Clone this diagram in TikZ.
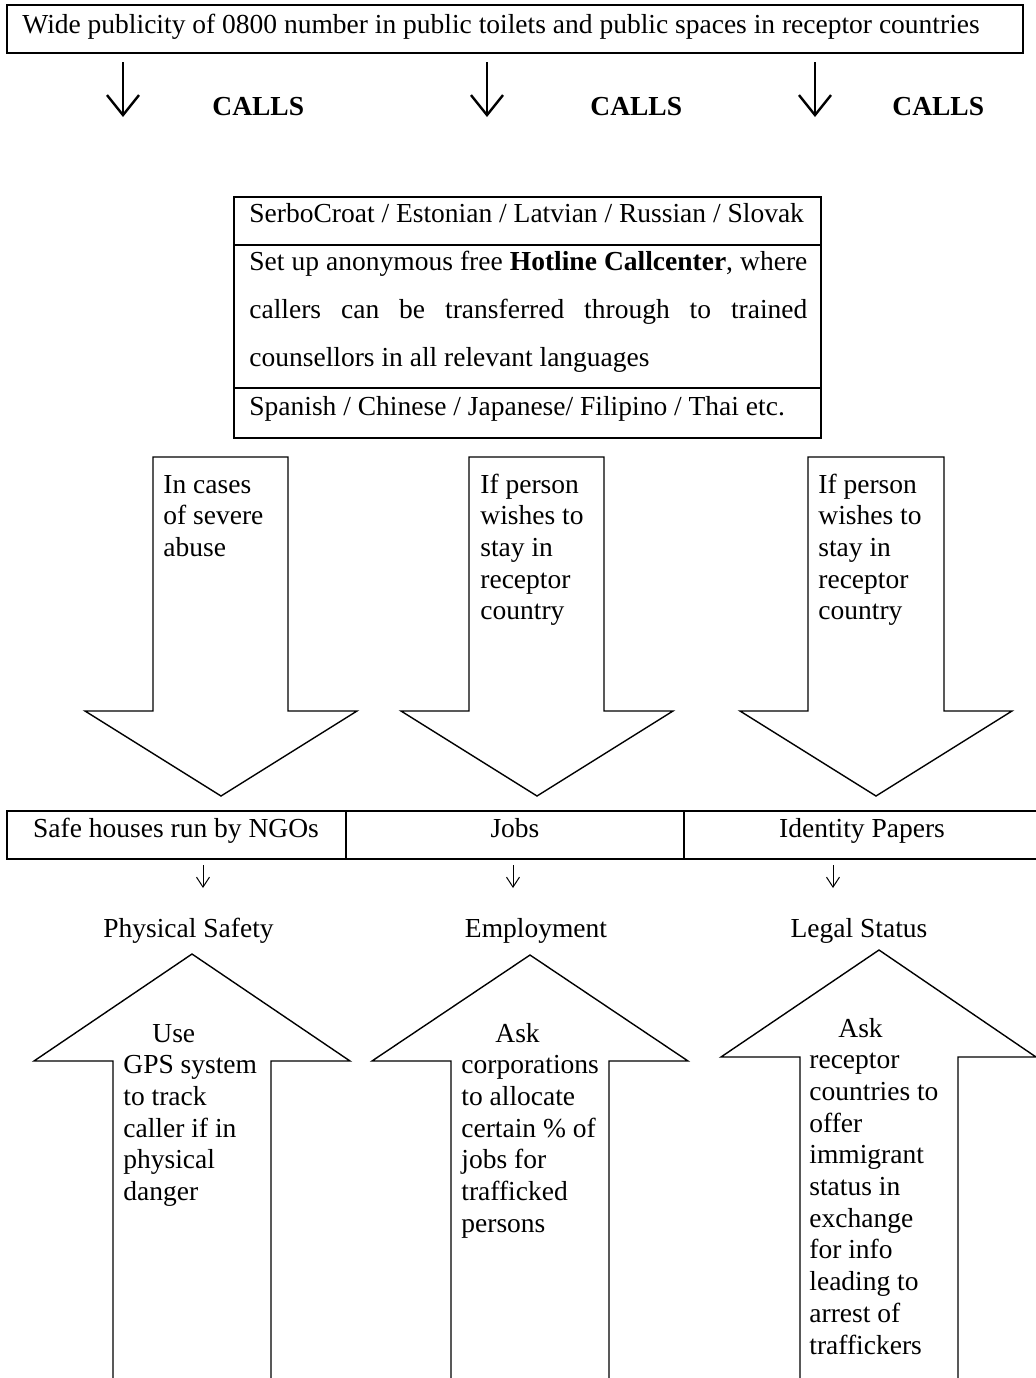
\documentclass[tikz,border=0pt]{standalone}
\usepackage{fontspec}
\setmainfont{Liberation Serif}
\usetikzlibrary{arrows.meta}
\newcommand\mylines[1]{\vtop{\baselineskip=15.85pt\lineskip=0pt\lineskiplimit=0pt\halign{##\hfil\cr#1\crcr}}}
\begin{document}
\begin{tikzpicture}[x=0.5pt,y=-0.5pt,
  font=\fontsize{13.75}{15.85}\selectfont,
  every node/.style={inner sep=0pt},
  box/.style={draw,line width=0.95pt},
  blk/.style={draw,line width=0.7pt,line join=miter},
  txt/.style={anchor=base west,inner sep=0pt},
  ctr/.style={anchor=base,inner sep=0pt},
  callarrow/.style={line width=1.2pt,-{Straight Barb[length=10pt,width=16pt,line width=1.2pt]}},
  smallarrow/.style={line width=0.5pt,-{Straight Barb[length=5pt,width=6.5pt,line width=0.5pt]}}]
\useasboundingbox (0,0) rectangle (1036,1378);
% top box
\draw[box] (7,5) rectangle (1023,53);
\node[txt] (pub) at (22,33) {Wide publicity of 0800 number in public toilets and public spaces in receptor countries};
% call arrows
\coordinate (c1s) at (123,62); \coordinate (c1e) at (123,117);
\coordinate (c2s) at (487,62); \coordinate (c2e) at (487,117);
\coordinate (c3s) at (815,62); \coordinate (c3e) at (815,117);
\draw[callarrow] (c1s) -- (c1e);
\draw[callarrow] (c2s) -- (c2e);
\draw[callarrow] (c3s) -- (c3e);
\node[txt] (calls1) at (212,115) {\textbf{CALLS}};
\node[txt] (calls2) at (590,115) {\textbf{CALLS}};
\node[txt] (calls3) at (892,115) {\textbf{CALLS}};
% call center table
\draw[box] (234,197) rectangle (821,438);
\draw[box] (234,245) -- (821,245);
\draw[box] (234,388) -- (821,388);
\node[txt] (lang1) at (249,222) {SerboCroat / Estonian / Latvian / Russian / Slovak};
\node[txt] (hotline) at (249,270) {\vtop{\baselineskip=24pt\lineskip=0pt\lineskiplimit=0pt
  \hbox{\makebox[279pt][s]{Set up anonymous free \textbf{Hotline Callcenter}, where}}
  \hbox{\makebox[279pt][s]{callers can be transferred through to trained}}
  \hbox{counsellors in all relevant languages}}};
\node[txt] (lang2) at (249,415) {Spanish / Chinese / Japanese/ Filipino / Thai etc.};
% down block arrows
\draw[blk] (153,457) -- (288,457) -- (288,711) -- (357,711) -- (221,796) -- (85,711) -- (153,711) -- cycle;
\draw[blk] (469,457) -- (604,457) -- (604,711) -- (673,711) -- (537,796) -- (401,711) -- (469,711) -- cycle;
\draw[blk] (808,457) -- (944,457) -- (944,711) -- (1012,711) -- (876,796) -- (740,711) -- (808,711) -- cycle;
\node[txt] (d1) at (163,493) {\mylines{In cases\cr of severe\cr abuse}};
\node[txt] (d2) at (480,493) {\mylines{If person\cr wishes to\cr stay in\cr receptor\cr country}};
\node[txt] (d3) at (818,493) {\mylines{If person\cr wishes to\cr stay in\cr receptor\cr country}};
% row of boxes
\draw[box] (7,811) rectangle (1040,859);
\draw[box] (346,811) -- (346,859);
\draw[box] (684,811) -- (684,859);
\node[ctr] (safe) at (176,837) {Safe houses run by NGOs};
\node[ctr] (jobs) at (515,837) {Jobs};
\node[ctr] (idp) at (862,837) {Identity Papers};
% small arrows
\coordinate (s1s) at (203,865); \coordinate (s1e) at (203,888);
\coordinate (s2s) at (513,865); \coordinate (s2e) at (513,888);
\coordinate (s3s) at (833,865); \coordinate (s3e) at (833,888);
\draw[smallarrow] (s1s) -- (s1e);
\draw[smallarrow] (s2s) -- (s2e);
\draw[smallarrow] (s3s) -- (s3e);
\node[ctr] (phys) at (188.5,937) {Physical Safety};
\node[ctr] (empl) at (536,937) {Employment};
\node[ctr] (legal) at (859,937) {Legal Status};
% up block arrows
\draw[blk] (113,1384) -- (113,1061) -- (34,1061) -- (192,954) -- (350,1061) -- (271,1061) -- (271,1384);
\draw[blk] (451,1384) -- (451,1061) -- (372,1061) -- (530,955) -- (688,1061) -- (609,1061) -- (609,1384);
\draw[blk] (800,1384) -- (800,1057) -- (721,1057) -- (879,950) -- (1036,1057) -- (958,1057) -- (958,1384);
\node[txt] (u1) at (123,1042) {\mylines{\hskip14.5pt Use\cr GPS system\cr to track\cr caller if in\cr physical\cr danger}};
\node[txt] (u2) at (461,1042) {\mylines{\hskip17pt Ask\cr corporations\cr to allocate\cr certain \% of\cr jobs for\cr trafficked\cr persons}};
\node[txt] (u3) at (809,1037) {\mylines{\hskip14.5pt Ask\cr receptor\cr countries to\cr offer\cr immigrant\cr status in\cr exchange\cr for info\cr leading to\cr arrest of\cr traffickers}};
\end{tikzpicture}
\end{document}
